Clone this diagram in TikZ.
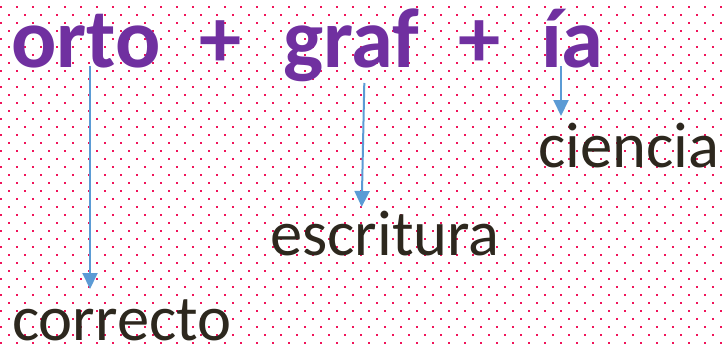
\documentclass[tikz,border=0pt]{standalone}
\usepackage{fontspec}
\setmainfont{Carlito}
\usetikzlibrary{arrows.meta}
\definecolor{dotc}{RGB}{240,20,90}
\definecolor{purp}{RGB}{112,48,160}
\definecolor{arrc}{RGB}{91,155,213}
\definecolor{txtc}{RGB}{45,40,30}
\tikzset{
  big/.style={inner sep=0pt, anchor=base west, text=purp, font=\fontsize{84.5}{90}\selectfont\bfseries},
  word/.style={inner sep=0pt, anchor=base west, text=txtc, font=\fontsize{64.5}{70}\selectfont},
  arr/.style={draw=arrc, line width=2pt, -{Triangle[length=16pt,width=15pt]}}
}
\begin{document}
\begin{tikzpicture}[x=1pt,y=-1pt]
\useasboundingbox (0,0) rectangle (723,345);
\fill[white] (0,0) rectangle (723,345);
\begin{scope}
\clip (0,0) rectangle (723,345);
\foreach \j in {0,...,44}{
  \pgfmathsetmacro\yy{-0.7+8*\j}
  \pgfmathsetmacro\xo{mod(\j,2)==1 ? 1 : 9}
  \foreach \k in {0,...,45}{
    \fill[dotc] ({\xo+16*\k-1},{\yy-1}) rectangle ++(2,2);
  }
}
\end{scope}
\node[big] (orto) at (11,67) {orto};
\node[big] (plusa) at (199,67) {+};
\node[big] (graf) at (283,67) {graf};
\node[big] (plusb) at (458,67) {+};
\node[big] (ia) at (541,67) {ía};
\node[word] (ciencia) at (538,167) {ciencia};
\node[word] (escritura) at (270,255) {escritura};
\node[word] (correcto) at (12,340) {correcto};
\coordinate (s1) at (90,66);
\coordinate (e1) at (90,289);
\coordinate (s2) at (364.3,83);
\coordinate (e2) at (361.7,207);
\coordinate (s3) at (561,66);
\coordinate (e3) at (561,116);
\draw[arr] (s1) -- (e1);
\draw[arr] (s2) -- (e2);
\draw[arr] (s3) -- (e3);
\end{tikzpicture}
\end{document}
